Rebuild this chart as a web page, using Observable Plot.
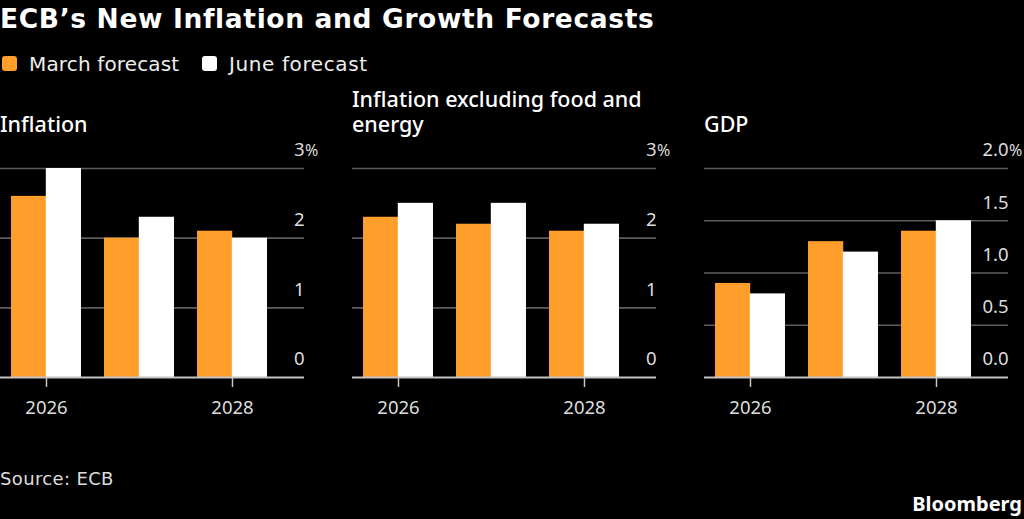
<!DOCTYPE html>
<html>
<head>
<meta charset="utf-8">
<script src="https://cdn.jsdelivr.net/npm/d3@7"></script>
<script src="https://cdn.jsdelivr.net/npm/@observablehq/plot@0.6"></script>
<style>
html,body{margin:0;padding:0;background:#000;overflow:hidden}
#root{position:relative;width:1024px;height:519px;background:#000;color:#fff;font-family:"Noto Sans",sans-serif;overflow:hidden}
.t{position:absolute;white-space:nowrap}
.sw{position:absolute;width:15px;height:15px;border-radius:3px}
.panel{position:absolute;top:130px}
.panel svg{display:block;overflow:visible;max-width:none !important}
</style>
</head>
<body>
<div id="root">
<div class="t" id="title" style="left:0;top:1px;font:700 26.5px/36px 'DejaVu Sans';letter-spacing:.63px">ECB’s New Inflation and Growth Forecasts</div>
<div class="sw" style="left:2px;top:56px;background:#ff9e2b"></div>
<div class="t" style="left:29px;top:50px;font:20px/28px 'DejaVu Sans';letter-spacing:.15px;color:#eee">March forecast</div>
<div class="sw" style="left:202px;top:56px;background:#fff"></div>
<div class="t" style="left:229px;top:50px;font:20px/28px 'DejaVu Sans';letter-spacing:.6px;color:#eee">June forecast</div>
<div class="t" style="left:0;top:479px;margin-top:-14px;font:18px/28px 'DejaVu Sans';letter-spacing:.35px;color:#ddd">Source: ECB</div>
<div class="t" style="right:2px;top:490px;font:700 20px/28px 'Noto Sans'">Bloomberg</div>
</div>
<script>
const years = ["2026", "2027", "2028"];
const tickYears = ["2026", "2028"];
const orange = "#ff9e2b";

const inflationMarch = [2.6, 2.0, 2.1];
const inflationJune = [3.0, 2.3, 2.0];
const coreMarch = [2.3, 2.2, 2.1];
const coreJune = [2.5, 2.5, 2.2];
const gdpMarch = [0.9, 1.3, 1.4];
const gdpJune = [0.8, 1.2, 1.5];

const inflationTicks = [0, 1, 2, 3];
const gdpTicks = [0, 0.5, 1, 1.5, 2];

const panels = [
  {left: 0, title: ["Inflation"], march: inflationMarch, june: inflationJune, ticks: inflationTicks, fmt: d3.format("d")},
  {left: 352, title: ["Inflation excluding food and", "energy"], march: coreMarch, june: coreJune, ticks: inflationTicks, fmt: d3.format("d")},
  {left: 704, title: ["GDP"], march: gdpMarch, june: gdpJune, ticks: gdpTicks, fmt: d3.format(".1f")}
];

const root = document.getElementById("root");
const W = 304, EXTRA = 24;

for (const p of panels) {
  const rows = m => years.map((year, i) => ({year, value: m[i]}));
  const top = p.ticks[p.ticks.length - 1];
  const chart = Plot.plot({
    width: W + EXTRA, height: 297,
    marginTop: 38, marginBottom: 50, marginLeft: 0, marginRight: EXTRA,
    style: {background: "transparent", color: "#fff", fontFamily: "'Noto Sans',sans-serif", fontSize: "18.5px", maxWidth: "none"},
    x: {type: "band", domain: years, range: [11, 267], paddingInner: 23 / 93, paddingOuter: 0, round: false},
    y: {domain: [0, top]},
    marks: [
      Plot.ruleY(p.ticks.filter(d => d > 0), {stroke: "#5c5c5c", strokeWidth: 1.6, strokeOpacity: 1}),
      Plot.barY(rows(p.march), {x: "year", y: "value", fill: orange, insetRight: 34.8}),
      Plot.barY(rows(p.june), {x: "year", y: "value", fill: "#fff", insetLeft: 34.8}),
      Plot.ruleY([0], {stroke: "#c4c4c4", strokeWidth: 1.8}),
      Plot.axisX({ticks: tickYears, tickSize: 10, tickPadding: 13, stroke: "#c4c4c4", strokeWidth: 1.5, fill: "#ddd", label: null}),
      Plot.axisY({ticks: p.ticks, anchor: "right", tickSize: 0, tickPadding: 0, textAnchor: "end", dy: -18, fill: "#ddd", tickFormat: p.fmt, label: null}),
      Plot.text([top], {y: d => d, text: () => "%", frameAnchor: "right", textAnchor: "start", dy: -18, dx: 0.5, fill: "#ddd", fontSize: 16, fontFamily: "'Liberation Sans Narrow','Noto Sans',sans-serif"})
    ]
  });
  const holder = document.createElement("div");
  holder.className = "panel";
  holder.style.left = p.left + "px";
  holder.appendChild(chart);
  root.appendChild(holder);

  const el = document.createElement("div");
  el.className = "t";
  el.style.cssText = `left:${p.left}px;top:${124 - 13.5 - (p.title.length - 1) * 25}px;font:500 21.5px/25px 'Noto Sans'`;
  p.title.forEach((line, i) => {
    if (i) el.appendChild(document.createElement("br"));
    el.appendChild(document.createTextNode(line));
  });
  root.appendChild(el);
}
</script>
</body>
</html>
